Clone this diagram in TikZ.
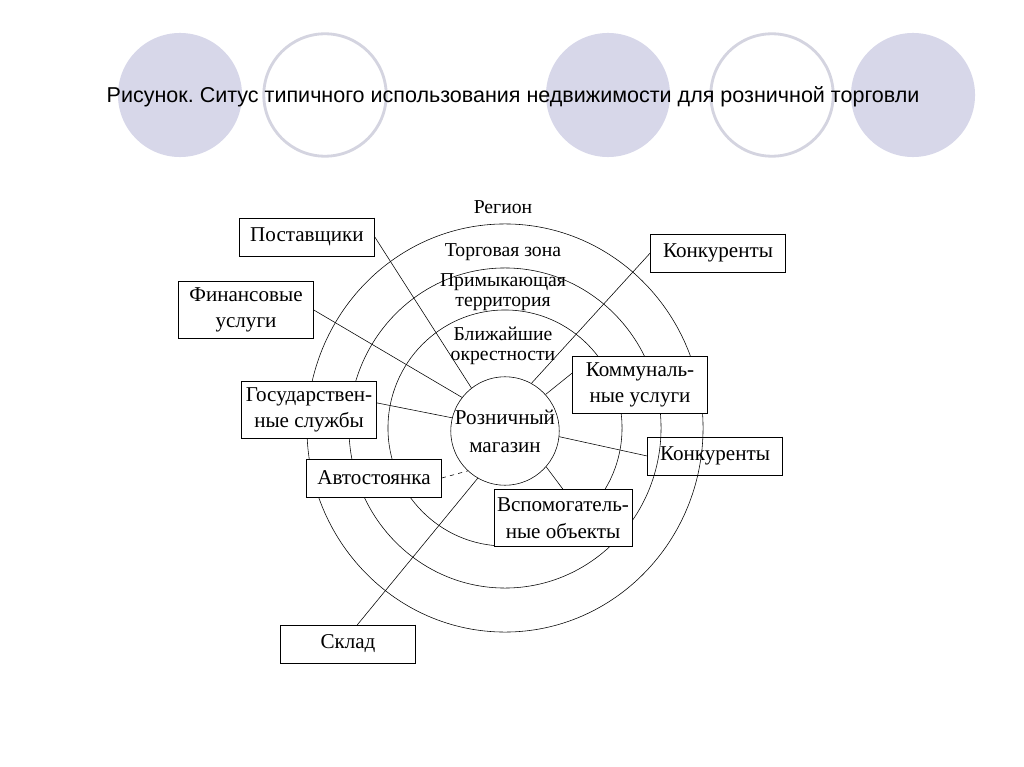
\documentclass[tikz,border=0pt]{standalone}
\usepackage{fontspec}
\setmainfont{Liberation Serif}
\newfontfamily\titlefont{Liberation Sans}
\usetikzlibrary{arrows.meta}
\frenchspacing

\definecolor{lavender}{HTML}{D7D7E9}
\definecolor{lavrim}{HTML}{D4D4E0}

\begin{document}
\begin{tikzpicture}[x=0.025cm, y=-0.025cm,
    every node/.style={font=\fontsize{15}{19}\selectfont},
    unitbox/.style={draw, thin, fill=white, inner sep=0pt, align=center,
      minimum width=3.375cm, minimum height=0.95cm},
    tallbox/.style={unitbox, minimum height=1.42cm},
    zonetext/.style={align=center, inner sep=0pt, font=\fontsize{14}{14.2}\selectfont},
    rimline/.style={densely dashed, semithick},
    link/.style={thin}]
  \fill[white] (0,0) rectangle (1024,767);
  \useasboundingbox (0,0) rectangle (1024,767);

  % decorative circles and title
  \foreach \cx in {180,608,913}
    \fill[lavender] (\cx,95) circle (1.55cm);
  \foreach \cx in {325,772}
    \draw[lavrim, line width=2pt] (\cx,95) circle (1.53cm);
  \node[font=\titlefont\fontsize{15.3}{18}\selectfont] (title) at (513,97)
    {Рисунок. Ситус типичного использования недвижимости для розничной торговли};

  % zones round the shop
  \draw[thin] (505,428) ellipse [x radius=4.95cm, y radius=5.1cm];
  \draw[thin] (505,428) ellipse [x radius=3.9cm, y radius=4.0cm];
  \draw[thin] (505,428) ellipse [x radius=2.925cm, y radius=2.95cm];
  \node[zonetext] (region) at (503,207) {Регион};
  \node[zonetext] (tradezone) at (503,252) {Торговая зона};
  \node[zonetext] (adjacent) at (503,292) {Примыкающая\\территория};
  \node[zonetext] (nearby) at (503,346) {Ближайшие\\окрестности};
  \node[draw, thin, circle, fill=white, minimum size=2.5cm, inner sep=0pt, align=center,
    font=\fontsize{15}{20}\selectfont] (shop) at (505,431) {Розничный\\магазин};

  % surrounding units
  \node[unitbox] (supp) at (307,237) {Поставщики};
  \node[tallbox] (fin) at (246,310) {Финансовые\\услуги};
  \node[tallbox] (gov) at (309,410) {Государствен-\\ные службы};
  \node[unitbox] (park) at (374,478) {Автостоянка};
  \node[unitbox] (store) at (348,644) {Склад};
  \node[unitbox] (comp1) at (718,253) {Конкуренты};
  \node[tallbox] (util) at (640,385) {Коммуналь-\\ные услуги};
  \node[unitbox, fill=none] (comp2) at (715,456) {Конкуренты};
  \node[tallbox, minimum width=3.45cm] (aux) at (563,518) {Вспомогатель-\\ные объекты};
  \foreach \b in {supp,fin,gov,park,store,comp1,util,comp2,aux}
    \draw[rimline] (\b.north east) -- (\b.south east) -- (\b.south west);

  % links to the shop
  \draw[link] (supp.east) -- (shop.128);
  \draw[link] (fin.east) -- (shop.142);
  \draw[link] (gov.6) -- (shop.166);
  \draw[link, dashed] (park.east) -- (shop.227);
  \draw[link] (store.64) -- (shop.240);
  \draw[link] (aux.north) -- (shop.319);
  \draw[link] (comp2.west) -- (shop.354);
  \draw[link] (util.170) -- (shop.42);
  \draw[link] (comp1.west) -- (shop.61);
\end{tikzpicture}
\end{document}
